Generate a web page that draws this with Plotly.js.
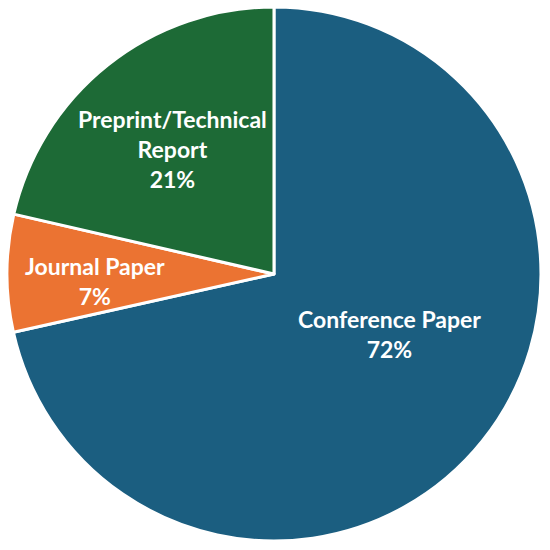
<!DOCTYPE html>
<html><head><meta charset="utf-8">
<script src="https://cdn.plot.ly/plotly-3.0.1.min.js"></script>
<style>html,body{margin:0;padding:0;background:#fff}</style>
</head><body>
<div id="chart" style="width:550px;height:550px"></div>
<script>
const categories = ["Conference Paper", "Journal Paper", "Preprint/Technical Report"];
const displayLabels = ["Conference Paper", "Journal Paper", "Preprint/Technical<br>Report"];
// slice shares as measured from the slice angles
const values = [71.5, 7.1, 21.4];
// percentages as printed on the chart
const percentLabels = ["72%", "7%", "21%"];
const colors = ["#1b5e80", "#eb7332", "#1d6a36"];
// label anchor positions (paper fraction)
const labelX = [0.709, 0.173, 0.313];
const labelY = [0.392, 0.489, 0.730];

const annotations = categories.map((c, i) => ({
  xref: 'paper', yref: 'paper', x: labelX[i], y: labelY[i],
  text: displayLabels[i] + '<br>' + percentLabels[i],
  showarrow: false, xanchor: 'center', yanchor: 'middle', align: 'center',
  font: {family: 'Lato, "Open Sans", sans-serif', size: 23, color: '#ffffff', weight: 'bold'}
}));

Plotly.newPlot('chart', [{
  type: 'pie',
  labels: categories,
  values: values,
  textinfo: 'none',
  sort: false,
  direction: 'clockwise',
  rotation: 0,
  marker: {colors: colors, line: {color: '#ffffff', width: 3}},
  hoverinfo: 'none',
  domain: {x: [0.0127, 0.9836], y: [0.0164, 0.9873]}
}], {
  width: 550, height: 550,
  margin: {l: 0, r: 0, t: 0, b: 0},
  showlegend: false,
  paper_bgcolor: '#ffffff',
  annotations: annotations
}, {displayModeBar: false, staticPlot: true});
</script>
</body></html>
